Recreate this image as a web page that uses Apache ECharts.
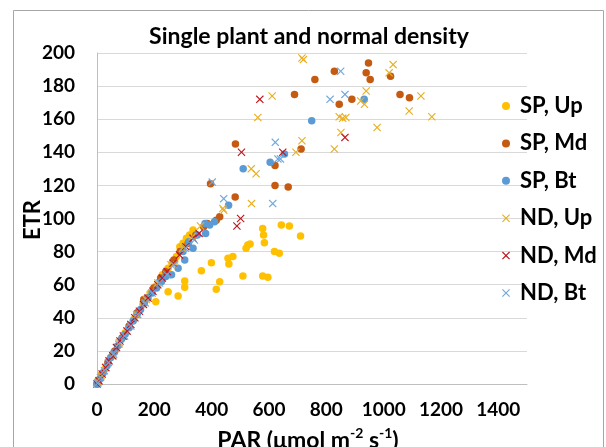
<!DOCTYPE html>
<html><head><meta charset="utf-8">
<script src="https://cdn.jsdelivr.net/npm/echarts@6/dist/echarts.min.js"></script>
<style>html,body{margin:0;padding:0;background:#fff}#c{width:606px;height:447px}</style>
</head><body><div id="c"></div>
<script>
const seriesNames = ['SP, Up', 'SP, Md', 'SP, Bt', 'ND, Up', 'ND, Md', 'ND, Bt'];
const seriesColors = ['#FFC000', '#C55A11', '#5B9BD5', '#E8AE1F', '#C0141E', '#6FA8DC'];
const xTicks = [0, 200, 400, 600, 800, 1000, 1200, 1400];
const yTicks = [0, 20, 40, 60, 80, 100, 120, 140, 160, 180, 200];

const spUp = [[0,0],[12,4],[28,9],[48,16],[72,23],[98,31],[128,39],[160,48],[185,55],[205,59],[228,66],[248,70],[262,73],[271,74],[277,77],[289,83],[300,85],[312,88],[323,90],[335,93],
  [205,49.7],[248,55.8],[283,53.2],[306,62.2],[306,58.4],[364,68.5],[399,73.3],[416,57.2],[428,61.8],[457,76],[460,72.5],[474,77],[509,65.3],[520,82],[526,84],[534,84.6],[578,94],[581,90],[584,85.4],[578,65.3],[596,64.5],[619,80],[636,79],[643,96],[671,95.5],[710,89.4]];
const spMd = [[0,0],[5,2],[18,6],[38,13],[62,20],[88,28],[112,35],[140,43],[163,51],[175,52],[198,58],[222,64],[240,68],[268,75],[290,80],[318,85],[345,90],[372,95],[385,97],[416,99],[428,101],
  [396,121],[482,113],[483,145],[621,120],[621,132],[667,119],[689,175],[712,142],[760,184],[828,189],[845,169],[889,172],[939,188],[947,194],[953,184],[1024,186],[1057,175],[1090,173]];
const spBt = [[0,0],[4,1],[10,3],[22,7],[35,11],[48,16],[60,19],[72,23],[85,27],[98,30],[112,34],[126,38],[140,42],[152,45],[165,49],[178,52],[192,55],[208,58],[225,62],[240,65],[260,66],[283,70],[300,80],[306,75],[320,86],[335,82],[350,90],[379,91],[377,97],[393,96],[410,98],
  [459,108],[510,130],[604,134],[654,139],[749,159],[932,172]];
const ndUp = [[3,1],[15,5],[32,10],[55,17],[78,25],[104,32],[138,42],[172,51],[212,61],[258,72],[298,82],[332,89],[361,95.5],
  [439,106],[442,105],[538,130],[539,109],[555,127],[561,161],[611,174],[694,140],[715,147],[715,197],[720,196],[828,142],[845,161.5],[851,152],[857,160.5],[868,161],[920,171],[933,169],[939,177],[977,155],[1019,188],[1033,193],[1089,165],[1130,174],[1168,161.5]];
const ndMd = [[0,0],[7,2],[18,6],[30,10],[42,14],[55,17],[68,22],[80,26],[92,29],[105,32],[118,36],[132,40],[148,44],[162,48],[178,52],[195,56],[212,60],[228,64],[245,68],[265,73],[288,78],[310,83],[335,88],[356,91],
  [488,95.5],[501,100],[504,140],[568,172],[648,140],[865,149]];
const ndBt = [[2,0.5],[12,4],[26,8],[40,13],[58,18],[76,24],[96,29],[118,35],[142,42],[168,49],[192,55],[218,61],[244,66],[268,72],[308,82],[340,87],
  [402,122],[442,112],[613,109],[622,146],[631,136],[640,136],[813,172],[850,189],[865,175]];

const seriesData = [spUp, spMd, spBt, ndUp, ndMd, ndBt];
const FONT = 'Lato, "Open Sans", sans-serif';
const CROSS = 'path://M0,1 L1,0 L5,4 L9,0 L10,1 L6,5 L10,9 L9,10 L5,6 L1,10 L0,9 L4,5 Z';

const chart = echarts.init(document.getElementById('c'), null, {renderer: 'canvas'});
const series = seriesData.map((d, i) => ({
  name: seriesNames[i],
  type: 'scatter',
  data: d,
  symbol: i < 3 ? 'circle' : CROSS,
  symbolSize: i < 3 ? 7.5 : 8,
  itemStyle: {color: seriesColors[i], opacity: 1},
  emphasis: {disabled: true},
  animation: false
}));

chart.setOption({
  animation: false,
  backgroundColor: '#fff',
  grid: {left: 97, right: 79, top: 53, bottom: 63},
  xAxis: {
    type: 'value', min: 0, max: 1500, interval: 200,
    axisLine: {show: true, lineStyle: {color: '#BFBFBF', width: 1}},
    axisTick: {show: false},
    splitLine: {show: false},
    axisLabel: {
      margin: 16, color: '#000', fontFamily: FONT, fontWeight: 'bold', fontSize: 19,
      formatter: v => (xTicks.indexOf(v) >= 0 ? String(v) : '')
    }
  },
  yAxis: {
    type: 'value', min: 0, max: 200, interval: 20,
    axisLine: {show: true, lineStyle: {color: '#BFBFBF', width: 1}},
    axisTick: {show: false},
    splitLine: {show: true, lineStyle: {color: '#D9D9D9', width: 1}},
    axisLabel: {
      margin: 22, color: '#000', fontFamily: FONT, fontWeight: 'bold', fontSize: 19,
      formatter: v => (yTicks.indexOf(v) >= 0 ? String(v) : '')
    }
  },
  legend: {
    orient: 'vertical', left: 497, top: 89, itemGap: 13.4,
    itemWidth: 8, itemHeight: 8,
    selectedMode: false,
    textStyle: {color: '#000', fontFamily: FONT, fontWeight: 'bold', fontSize: 22, lineHeight: 24, padding: [0, 0, 0, 5]},
    data: seriesNames
  },
  graphic: [
    {type: 'rect', silent: true, z: -1, shape: {x: 13.5, y: 10.5, width: 590, height: 460}, style: {fill: 'none', stroke: '#A6A6A6', lineWidth: 1}},
    {type: 'text', silent: true, x: 309, y: 37, style: {text: 'Single plant and normal density', font: 'bold 23px ' + FONT, fill: '#000', align: 'center', verticalAlign: 'middle'}},
    {type: 'text', silent: true, x: 33, y: 220, rotation: Math.PI / 2, style: {text: 'ETR', font: 'bold 22px ' + FONT, fill: '#000', align: 'center', verticalAlign: 'middle'}},
    {type: 'text', silent: true, x: 308, y: 438, style: {
      text: '{a|PAR (μmol m}{s|-2}{a| s}{s|-1}{a|)}', align: 'center', verticalAlign: 'middle',
      rich: {
        a: {font: 'bold 23px ' + FONT, fill: '#000', lineHeight: 28, verticalAlign: 'bottom'},
        s: {font: 'bold 14px ' + FONT, fill: '#000', lineHeight: 28, verticalAlign: 'top', padding: [2, 0, 0, 0]}
      }
    }}
  ],
  series: series
});
</script></body></html>
